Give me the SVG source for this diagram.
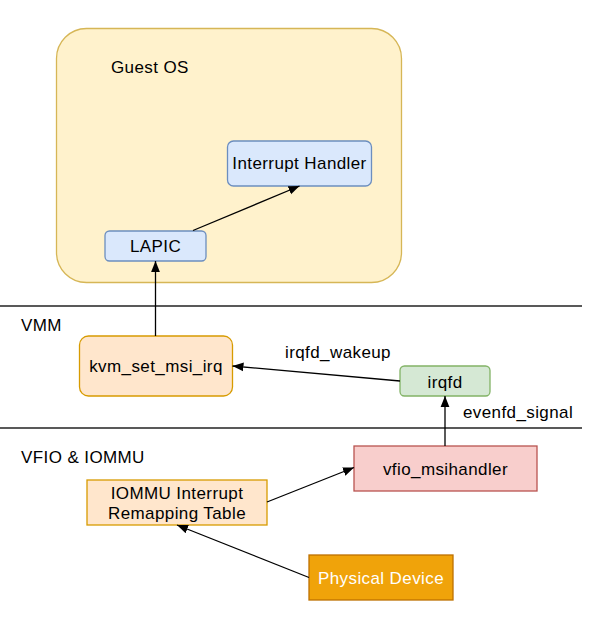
<svg xmlns="http://www.w3.org/2000/svg" width="598" height="635" viewBox="0 0 598 635">
<defs>
<style>
text{font-family:"Liberation Sans",Arial,sans-serif;font-size:17px;letter-spacing:0.4px;fill:#000}
.c{text-anchor:middle}
.conn{stroke:#000;stroke-width:1.3;fill:none;marker-end:url(#ah)}
.sep{stroke:#222;stroke-width:1.5}
.blue{fill:#dae8fc;stroke:#6c8ebf;stroke-width:1.3}
.orange{fill:#ffe6cc;stroke:#d79b00;stroke-width:1.3}
</style>
<marker id="ah" viewBox="0 0 10 10" refX="10" refY="5" markerWidth="11" markerHeight="11" markerUnits="userSpaceOnUse" orient="auto">
<path d="M0,1 L10,5 L0,9 Z" fill="#000"/>
</marker>
</defs>
<rect width="598" height="635" fill="#fff"/>
<g id="guest-os">
<rect x="56.5" y="28.5" width="345" height="254" rx="30" fill="#fff2cc" stroke="#d6b656" stroke-width="1.3"/>
<text x="111" y="72.5">Guest OS</text>
</g>
<g id="separators">
<line class="sep" x1="0" y1="306" x2="582" y2="306"/>
<line class="sep" x1="0" y1="428" x2="582" y2="428"/>
<text x="21" y="331">VMM</text>
<text x="21" y="463">VFIO &amp; IOMMU</text>
</g>
<g id="interrupt-handler">
<rect class="blue" x="227.5" y="141" width="144" height="45" rx="6"/>
<text class="c" x="299.5" y="169">Interrupt Handler</text>
</g>
<g id="lapic">
<rect class="blue" x="105" y="231" width="101" height="30" rx="4.5"/>
<text class="c" x="155.5" y="252">LAPIC</text>
</g>
<g id="kvm-set-msi-irq">
<rect class="orange" x="79.5" y="336" width="153" height="60" rx="9"/>
<text class="c" x="156" y="372">kvm_set_msi_irq</text>
</g>
<g id="irqfd">
<rect x="400" y="366" width="90" height="30" rx="4.5" fill="#d5e8d4" stroke="#82b366" stroke-width="1.3"/>
<text class="c" x="445" y="387.5">irqfd</text>
</g>
<g id="vfio-msihandler">
<rect x="354" y="446" width="183" height="45" fill="#f8cecc" stroke="#b85450" stroke-width="1.3"/>
<text class="c" x="445.5" y="475">vfio_msihandler</text>
</g>
<g id="iommu-table">
<rect class="orange" x="87" y="480" width="180" height="45"/>
<text class="c" x="177" y="498.5">IOMMU Interrupt</text>
<text class="c" x="177" y="519">Remapping Table</text>
</g>
<g id="physical-device">
<rect x="309" y="555" width="144" height="45" fill="#f0a30a" stroke="#bd7000" stroke-width="1.3"/>
<text class="c" x="381" y="583.5" style="fill:#fff">Physical Device</text>
</g>
<g id="connectors">
<line class="conn" x1="193" y1="230.5" x2="299.5" y2="186"/>
<line class="conn" x1="155.5" y1="336" x2="155.5" y2="261"/>
<line class="conn" x1="400" y1="381" x2="232.5" y2="366"/>
<line class="conn" x1="445" y1="446" x2="445" y2="396"/>
<line class="conn" x1="267" y1="502" x2="354" y2="467.5"/>
<line class="conn" x1="309" y1="577.5" x2="177" y2="525"/>
<text class="c" x="338" y="358">irqfd_wakeup</text>
<text x="463" y="418">evenfd_signal</text>
</g>
</svg>
